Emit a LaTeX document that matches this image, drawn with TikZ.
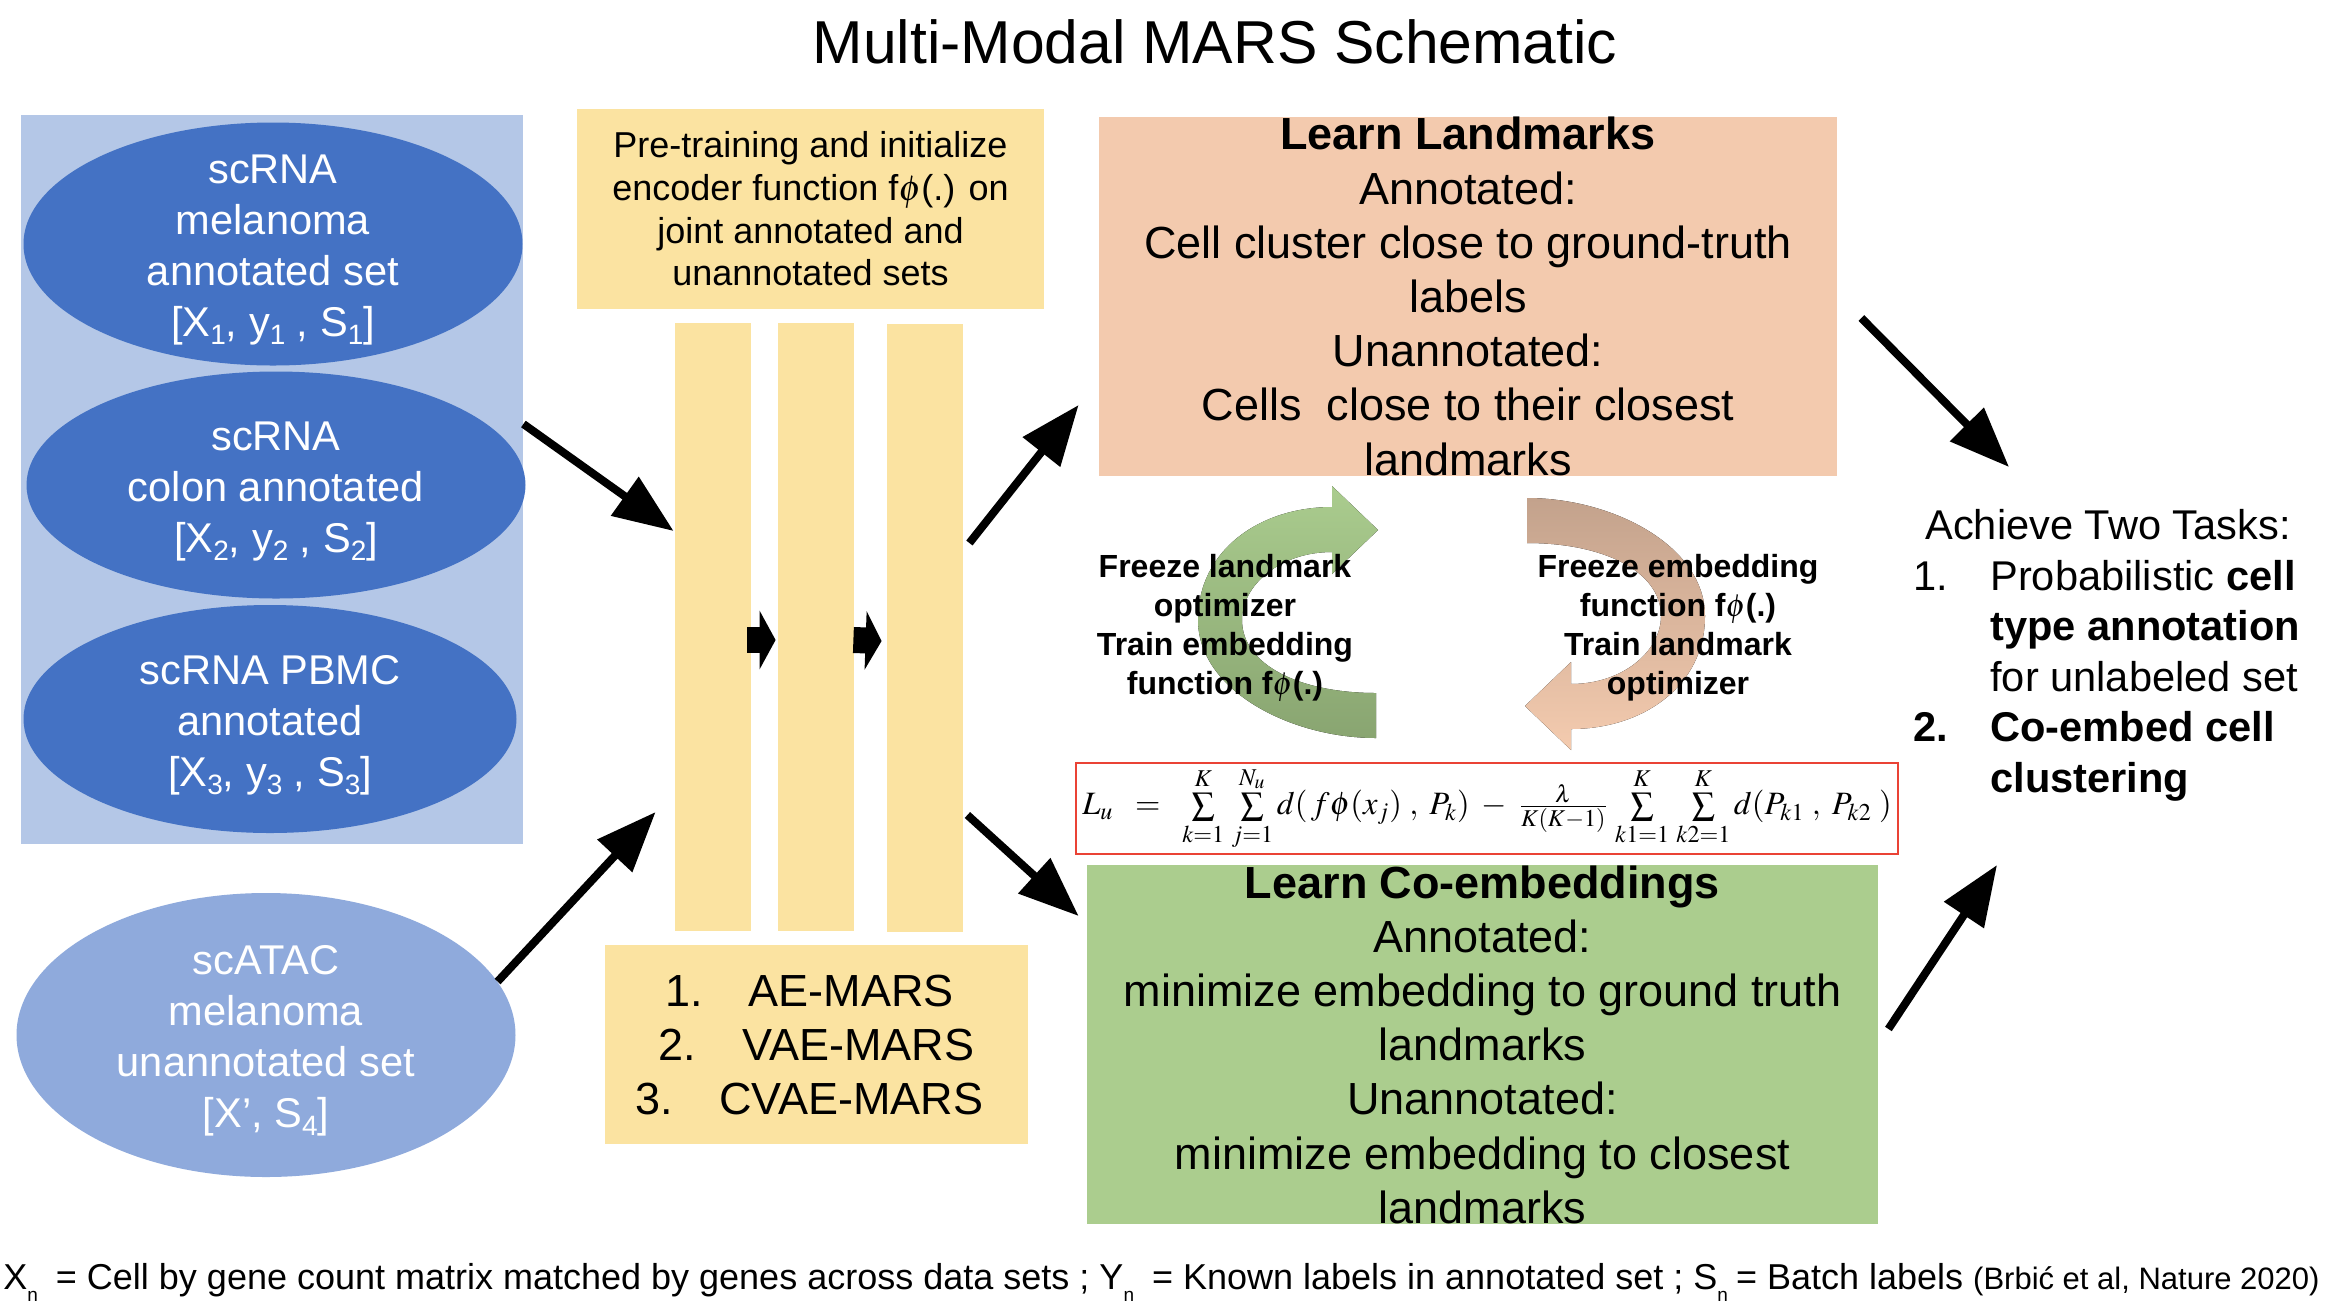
\documentclass[tikz,border=0pt]{standalone}
\usepackage{mathptmx}
\usepackage[no-math]{fontspec}
\setmainfont{Liberation Sans}
\usetikzlibrary{shapes.geometric,arrows.meta}

\definecolor{grpblue}{RGB}{180,199,231}
\definecolor{ellblue}{RGB}{68,114,196}
\definecolor{ellpale}{RGB}{143,170,220}
\definecolor{padyellow}{RGB}{251,227,161}
\definecolor{landorange}{RGB}{243,202,174}
\definecolor{coembgreen}{RGB}{171,205,142}
\definecolor{lossred}{RGB}{234,67,53}
\definecolor{cycgreentop}{RGB}{170,204,142}
\definecolor{cycgreenbot}{RGB}{137,165,113}
\definecolor{cycbrowntop}{RGB}{195,162,140}
\definecolor{cycbrownbot}{RGB}{244,203,175}

\newcommand{\setfs}[2]{\fontsize{#1}{#2}\selectfont}
\newcommand{\capsub}[1]{\raisebox{-6pt}{\setfs{9.5}{10}#1}}
\newcommand{\ellsub}[1]{\raisebox{-4pt}{\setfs{14}{14}#1}}

\begin{document}
\begin{tikzpicture}[x=0.5pt,y=-0.5pt,
  ell/.style={ellipse,fill=ellblue,inner sep=0},
  elltxt/.style={text=white,inner sep=0,align=center,font=\setfs{20.8}{25.5}},
  pad/.style={rectangle,fill=padyellow,inner sep=0},
  bigbox/.style={rectangle,inner sep=0,align=center,font=\setfs{22.5}{27.1}},
  bigarrow/.style={line width=4pt,-{Triangle[length=30pt,width=23pt]}},
  blockarrow/.style={line width=13pt,-{Triangle[length=8pt,width=29pt]}},
  cycletxt/.style={align=center,font=\bfseries\setfs{16}{19.5}}]
  \path[fill=white,use as bounding box] (0,0) rectangle (2330,1308);
  \node[anchor=base,font=\setfs{30.3}{32}] (title) at (1215,63) {Multi-Modal MARS Schematic};

  % input data sets
  \node[rectangle,fill=grpblue,minimum width=251pt,minimum height=364.5pt,inner sep=0] (annot) at (272,479.5) {};
  \node[ell,minimum width=249.5pt,minimum height=121.5pt] (mel) at (273,244) {};
  \node[elltxt] (meltxt) at (273,250) {scRNA\\melanoma\\annotated set\\{}[X\ellsub{1}, y\ellsub{1} , S\ellsub{1}]};
  \node[ell,minimum width=249.5pt,minimum height=113.5pt] (colon) at (276,485) {};
  \node[elltxt] (colontxt) at (276,491) {scRNA\\colon annotated\\{}[X\ellsub{2}, y\ellsub{2} , S\ellsub{2}]};
  \node[ell,minimum width=246.5pt,minimum height=114pt] (pbmc) at (270,719) {};
  \node[elltxt] (pbmctxt) at (270,725) {scRNA PBMC\\annotated\\{}[X\ellsub{3}, y\ellsub{3} , S\ellsub{3}]};
  \node[ell,fill=ellpale,minimum width=249.5pt,minimum height=142pt] (atac) at (266,1035) {};
  \node[elltxt] (atactxt) at (266,1041) {scATAC\\melanoma\\unannotated set\\{}[X’, S\ellsub{4}]};

  % encoder
  \node[pad,minimum width=233.5pt,minimum height=100pt,align=center,font=\setfs{18}{21.3}] (pre) at (810.5,209) {Pre-training and initialize\\encoder function f$\phi$(.) on\\joint annotated and\\unannotated sets};
  \node[pad,minimum width=38pt,minimum height=304pt] (b1) at (713,627) {};
  \node[pad,minimum width=38pt,minimum height=304pt] (b2) at (816,627) {};
  \node[pad,minimum width=38pt,minimum height=304pt] (b3) at (925,628) {};
  \node[pad,minimum width=211.5pt,minimum height=99.5pt,align=center,font=\setfs{22.5}{27}] (models) at (816.5,1044.5) {1.\hspace{23pt}AE-MARS\hspace*{7pt}\\2.\hspace{23pt}VAE-MARS\hspace*{7pt}\\3.\hspace{23pt}CVAE-MARS\hspace*{7pt}};
  \draw[blockarrow] ([xshift=-2pt,yshift=-6.5pt]b1.east) -- ([xshift=-1pt,yshift=-6.5pt]b2.west);
  \draw[blockarrow] ([xshift=-0.5pt,yshift=-6.5pt]b2.east) -- ([xshift=-2.5pt,yshift=-6.5pt]b3.west);

  % learning steps
  \node[bigbox,fill=landorange,minimum width=369pt,minimum height=179.5pt] (land) at (1468,296.5) {\textbf{Learn Landmarks}\\Annotated:\\Cell cluster close to ground-truth\\labels\\Unannotated:\\Cells\ \ close to their closest\\landmarks};
  \node[bigbox,fill=coembgreen,minimum width=395.5pt,minimum height=179.5pt] (coemb) at (1482.5,1044.5) {\textbf{Learn Co-embeddings}\\Annotated:\\minimize embedding to ground truth\\landmarks\\Unannotated:\\minimize embedding to closest\\landmarks};
  \node[draw=lossred,line width=1.2pt,fill=white,minimum width=411pt,minimum height=45.5pt,inner sep=0] (loss) at (1487,808.5) {\setfs{16.3}{19}$L_u\;\;=\;\;\sum\limits_{k=1}^{K}\,\sum\limits_{j=1}^{N_u} d(\,f\phi(x_j)\;,\;P_k) \;-\; \frac{\lambda}{K(K-1)}\,\sum\limits_{k1=1}^{K}\,\sum\limits_{k2=1}^{K} d(P_{k1}\;,\;P_{k2}\;)$};

  % alternating optimisation
  \fill[top color=cycgreentop,bottom color=cycgreenbot] (1376,738) .. controls (1290,738) and (1198,690) .. (1198,620) .. controls (1198,550) and (1260,507) .. (1332,507) -- (1332,486) -- (1378,530) -- (1332,574) -- (1332,552) .. controls (1280,552) and (1242,585) .. (1242,620) .. controls (1242,665) and (1300,693) .. (1376,693) -- cycle;
  \fill[top color=cycbrowntop,bottom color=cycbrownbot] (1527,498) .. controls (1613,498) and (1705,546) .. (1705,616) .. controls (1705,686) and (1643,729) .. (1571,729) -- (1571,750) -- (1525,706) -- (1571,662) -- (1571,684) .. controls (1623,684) and (1661,651) .. (1661,616) .. controls (1661,571) and (1603,543) .. (1527,543) -- cycle;
  \node[cycletxt] (frzl) at (1225,628) {Freeze landmark\\optimizer\\Train embedding\\function f$\phi$(.)};
  \node[cycletxt] (frze) at (1678,628) {Freeze embedding\\function f$\phi$(.)\\Train landmark\\optimizer};

  % outcome
  \node[anchor=north west,inner sep=0,align=left,font=\setfs{20.8}{25.3}] (tasks) at (1913,509) {\hspace*{6pt}Achieve Two Tasks:\\
    \makebox[38.5pt][l]{1.}Probabilistic \textbf{cell}\\
    \hspace*{38.5pt}\textbf{type annotation}\\
    \hspace*{38.5pt}for unlabeled set\\
    \makebox[38.5pt][l]{\textbf{2.}}\textbf{Co-embed cell}\\
    \hspace*{38.5pt}\textbf{clustering}};

  \draw[bigarrow] ([yshift=27.75pt]annot.east) -- ([xshift=-0.5pt,yshift=48pt]b1.west);
  \draw[bigarrow] (atac.13) -- ([xshift=-9.5pt,yshift=-92.5pt]b1.west);
  \draw[bigarrow] ([xshift=3pt,yshift=42.5pt]b3.east) -- ([xshift=-10pt,yshift=-54.25pt]land.west);
  \draw[bigarrow] ([xshift=2pt,yshift=-93.5pt]b3.east) -- ([xshift=-4pt,yshift=64.25pt]coemb.west);
  \draw[bigarrow] ([xshift=12pt,yshift=-10.75pt]land.east) -- ([xshift=48pt,yshift=21pt]tasks.north west);
  \draw[bigarrow] ([xshift=5pt,yshift=7.75pt]coemb.east) -- ([xshift=42pt,yshift=-178pt]tasks.north west);

  \node[anchor=base west,inner sep=0,font=\setfs{18}{20}] (caption) at (3,1289) {X\capsub{n}\hspace{9pt}= Cell by gene count matrix matched by genes across data sets ; Y\capsub{n}\hspace{9pt}= Known labels in annotated set ; S\capsub{n}\hspace{4pt}= Batch labels {\setfs{15.5}{18}(Brbić et al, Nature 2020)}};
\end{tikzpicture}
\end{document}
